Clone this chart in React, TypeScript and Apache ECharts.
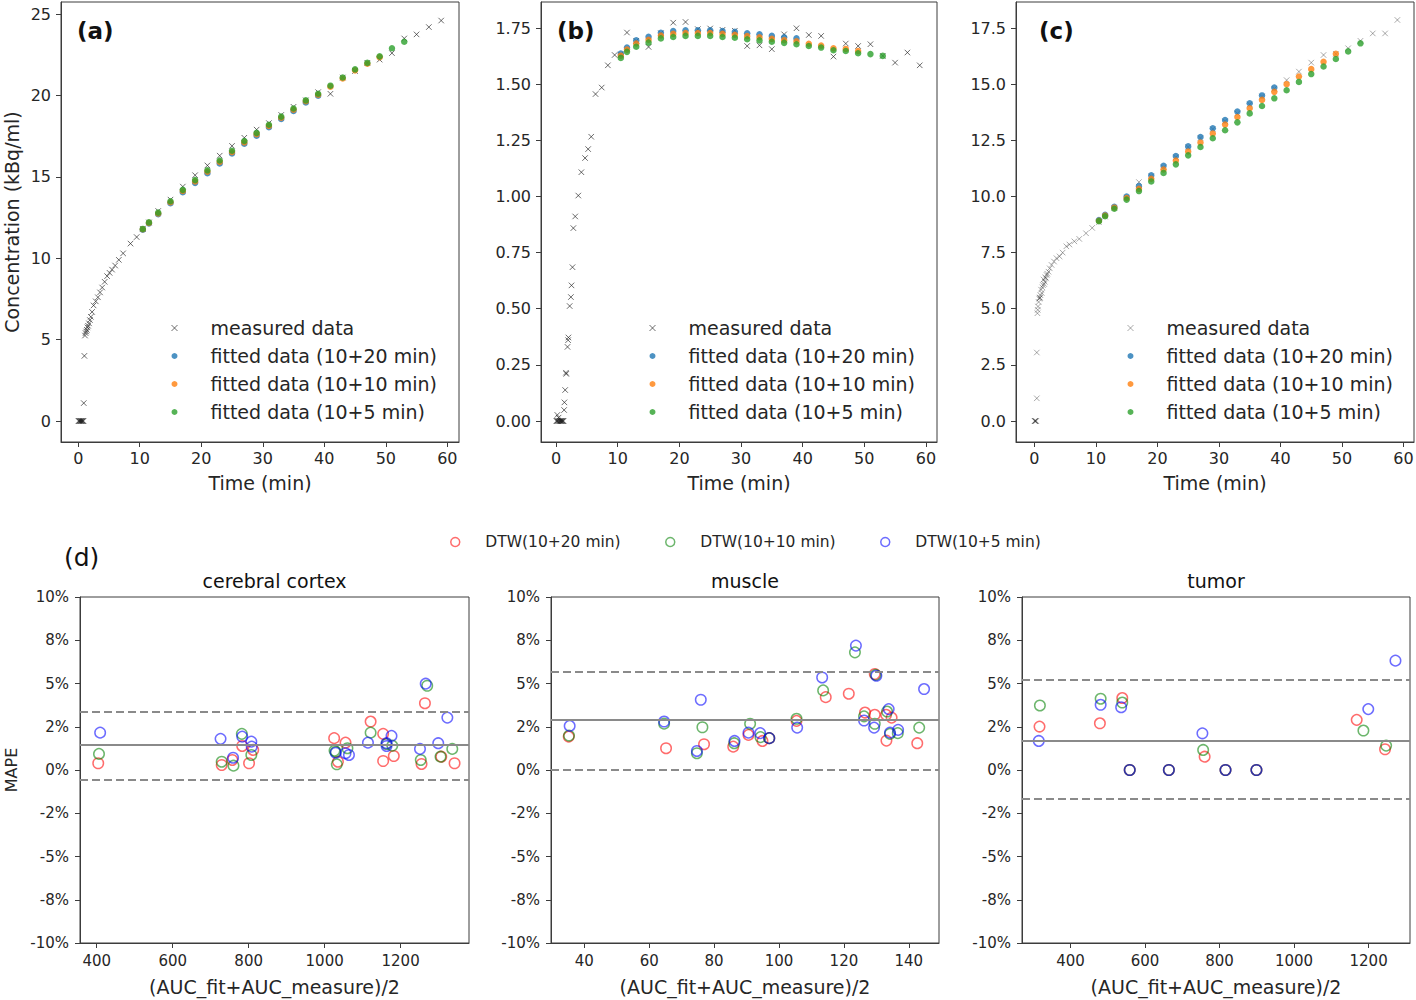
import React, { useEffect, useRef } from "react";
import * as echarts from "echarts";

const FONT = "DejaVu Sans";
const TEXT = "#262626";
const AXIS = "#3c3c3c";

// ---------- top panels (a)(b)(c) ----------
const timeTicks = [0, 10, 20, 30, 40, 50, 60];
const aYTicks = [0, 5, 10, 15, 20, 25];
const bYTicks = [0, 0.25, 0.5, 0.75, 1.0, 1.25, 1.5, 1.75];
const cYTicks = [0, 2.5, 5, 7.5, 10, 12.5, 15, 17.5];

const fitTimes = [10.5, 11.5, 13, 15, 17, 19, 21, 23, 25, 27, 29, 31, 33, 35, 37, 39, 41, 43, 45, 47, 49, 51, 53];
const tailTimes = [10.5, 11.5, 13, 15, 17, 19, 21, 23, 25, 27, 29, 31, 33, 35, 37, 39, 41, 43, 45, 47, 49, 51, 53, 55, 57, 59];

const aEarlyT = [0.05, 0.15, 0.25, 0.35, 0.45, 0.55, 0.65, 0.75, 0.85, 0.9, 1.0, 1.1, 1.2, 1.3, 1.4, 1.5, 1.6, 1.75, 1.9, 2.05, 2.25, 2.5, 2.85, 3.2, 3.55, 3.9, 4.3, 4.7, 5.1, 5.5, 6.0, 6.6, 7.3, 8.5, 9.5];
const aEarlyV = [0, 0, 0, 0, 0, 0, 0, 0, 0, 1.1, 4.0, 5.25, 5.4, 5.5, 5.6, 5.75, 5.85, 6.0, 6.2, 6.4, 6.7, 7.1, 7.35, 7.6, 7.9, 8.2, 8.55, 8.9, 9.1, 9.3, 9.55, 9.9, 10.3, 10.9, 11.3];
const aTailV = [11.8, 12.2, 12.9, 13.6, 14.4, 15.1, 15.7, 16.3, 16.9, 17.4, 17.9, 18.3, 18.8, 19.3, 19.7, 20.2, 20.1, 21.1, 21.5, 22.0, 22.2, 22.6, 23.5, 23.75, 24.2, 24.6];
const aFit20 = [11.75, 12.13, 12.7, 13.38, 14.05, 14.63, 15.22, 15.82, 16.43, 17.03, 17.53, 18.05, 18.55, 19.05, 19.57, 19.98];
const aFit10 = [11.78, 12.17, 12.75, 13.44, 14.13, 14.72, 15.32, 15.92, 16.52, 17.12, 17.62, 18.13, 18.63, 19.13, 19.64, 20.04, 20.54, 21.04, 21.54, 21.95, 22.35];
const aFit5 = [11.8, 12.2, 12.8, 13.5, 14.2, 14.8, 15.4, 16.0, 16.6, 17.2, 17.7, 18.2, 18.7, 19.2, 19.7, 20.1, 20.6, 21.1, 21.6, 22.0, 22.4, 22.9, 23.3];

const bEarlyT = [0.05, 0.15, 0.2, 0.3, 0.4, 0.5, 0.6, 0.7, 0.8, 0.9, 1.0, 1.1, 1.2, 1.3, 1.35, 1.47, 1.6, 1.65, 1.85, 1.95, 2.0, 2.2, 2.4, 2.5, 2.66, 2.8, 3.1, 3.6, 4.1, 4.7, 5.2, 5.7, 6.4, 7.4, 8.4, 9.5];
const bEarlyV = [0, 0, 0.027, 0, 0.015, 0, 0, 0, 0, 0, 0, 0, 0, 0.049, 0.083, 0.138, 0.215, 0.21, 0.33, 0.36, 0.372, 0.512, 0.552, 0.604, 0.685, 0.859, 0.911, 1.004, 1.108, 1.171, 1.211, 1.266, 1.456, 1.485, 1.584, 1.63];
const bTailV = [1.633, 1.73, 1.693, 1.666, 1.727, 1.774, 1.777, 1.745, 1.748, 1.742, 1.738, 1.67, 1.673, 1.656, 1.722, 1.749, 1.719, 1.715, 1.623, 1.681, 1.67, 1.678, 1.626, 1.596, 1.641, 1.584];
const bFit20 = [1.636, 1.663, 1.695, 1.711, 1.729, 1.737, 1.74, 1.74, 1.74, 1.737, 1.733, 1.727, 1.722, 1.715, 1.709, 1.704];
const bFit10 = [1.627, 1.654, 1.681, 1.698, 1.717, 1.724, 1.728, 1.728, 1.728, 1.724, 1.72, 1.714, 1.709, 1.702, 1.696, 1.691, 1.68, 1.672, 1.66, 1.657, 1.648];
const bFit5 = [1.617, 1.644, 1.667, 1.685, 1.704, 1.71, 1.715, 1.715, 1.715, 1.71, 1.707, 1.7, 1.695, 1.689, 1.684, 1.678, 1.67, 1.663, 1.651, 1.648, 1.638, 1.634, 1.626];

const cEarlyT = [0.05, 0.1, 0.15, 0.2, 0.3, 0.4, 0.4, 0.5, 0.55, 0.6, 0.7, 0.8, 0.9, 0.9, 1.0, 1.1, 1.2, 1.3, 1.4, 1.5, 1.6, 1.7, 1.8, 1.9, 2.0, 2.1, 2.3, 2.5, 2.8, 3.2, 3.6, 4.1, 4.6, 5.2, 5.7, 6.5, 7.3, 8.4, 9.4];
const cEarlyV = [0, 0, 0, 0, 0, 1.01, 3.05, 4.8, 4.95, 5.1, 5.3, 5.45, 5.48, 5.5, 5.6, 5.85, 5.7, 5.95, 6.05, 6.3, 6.1, 6.2, 6.4, 6.35, 6.5, 6.56, 6.65, 6.8, 6.95, 7.1, 7.25, 7.33, 7.5, 7.78, 7.86, 8.0, 8.11, 8.36, 8.6];
const cTailV = [8.85, 9.1, 9.5, 9.95, 10.64, 10.9, 11.3, 11.75, 12.2, 12.6, 13.0, 13.35, 13.7, 14.1, 14.45, 14.8, 15.18, 15.56, 15.96, 16.3, 16.35, 16.6, 16.93, 17.26, 17.26, 17.86];
const cFit20 = [8.95, 9.18, 9.54, 10.0, 10.46, 10.94, 11.37, 11.8, 12.23, 12.65, 13.04, 13.4, 13.78, 14.15, 14.5, 14.85];
const cFit10 = [8.92, 9.15, 9.5, 9.93, 10.34, 10.79, 11.2, 11.6, 12.0, 12.4, 12.8, 13.2, 13.54, 13.93, 14.3, 14.66, 15.0, 15.34, 15.67, 16.0, 16.35];
const cFit5 = [8.9, 9.12, 9.45, 9.86, 10.24, 10.67, 11.05, 11.43, 11.83, 12.2, 12.59, 12.95, 13.3, 13.7, 14.03, 14.37, 14.73, 15.1, 15.45, 15.79, 16.12, 16.46, 16.82];

// ---------- bottom panels (d) ----------
const pctTicks = [-10, -7.5, -5, -2.5, 0, 2.5, 5, 7.5, 10];
const pctLabels = ["-10%", "-8%", "-5%", "-2%", "0%", "2%", "5%", "8%", "10%"];
const cortexXTicks = [400, 600, 800, 1000, 1200];
const muscleXTicks = [40, 60, 80, 100, 120, 140];
const tumorXTicks = [400, 600, 800, 1000, 1200];

const cortexRedX = [404, 729, 757, 783, 801, 812, 1025, 1035, 1055, 1121, 1154, 1154, 1182, 1264, 1255, 1307, 1342];
const cortexRedY = [0.39, 0.29, 0.58, 1.39, 0.39, 1.16, 1.84, 0.48, 1.58, 2.8, 2.09, 0.52, 0.81, 3.86, 0.35, 0.77, 0.39];
const cortexGreenX = [406, 729, 760, 782, 807, 1026, 1029, 1032, 1060, 1121, 1163, 1178, 1270, 1253, 1305, 1336];
const cortexGreenY = [0.93, 0.48, 0.25, 2.09, 0.87, 1.12, 1.05, 0.33, 1.26, 2.16, 1.5, 1.41, 4.87, 0.58, 0.77, 1.22];
const cortexBlueX = [409, 726, 759, 783, 807, 808, 1029, 1055, 1064, 1114, 1163, 1163, 1176, 1266, 1251, 1299, 1323];
const cortexBlueY = [2.16, 1.8, 0.71, 1.93, 1.64, 1.35, 1.0, 0.97, 0.87, 1.58, 1.55, 1.39, 1.97, 4.99, 1.22, 1.55, 3.03];
const cortexLimits = [1.45, 3.37, -0.58];

const muscleRedX = [35.2, 65.2, 76.9, 85.9, 90.6, 94.9, 97.0, 105.4, 114.4, 121.5, 126.5, 129.5, 129.5, 133.1, 133.0, 134.7, 142.6];
const muscleRedY = [1.93, 1.26, 1.49, 1.35, 2.03, 1.68, 1.84, 2.84, 4.21, 4.41, 3.32, 5.55, 3.19, 1.7, 3.19, 3.03, 1.55];
const muscleGreenX = [35.3, 64.6, 74.7, 76.4, 86.2, 91.1, 94.3, 97.0, 105.4, 113.6, 123.4, 126.2, 129.8, 129.5, 133.3, 134.2, 136.6, 143.2];
const muscleGreenY = [1.99, 2.68, 0.97, 2.47, 1.55, 2.67, 1.9, 1.84, 2.96, 4.6, 6.8, 3.1, 5.5, 2.67, 3.38, 2.09, 2.13, 2.45];
const muscleBlueX = [35.5, 64.6, 74.7, 75.9, 86.3, 90.6, 94.2, 97.0, 105.6, 113.3, 123.7, 126.2, 130.0, 129.3, 133.8, 134.2, 136.7, 144.7];
const muscleBlueY = [2.55, 2.8, 1.1, 4.06, 1.68, 2.16, 2.13, 1.84, 2.45, 5.35, 7.19, 2.86, 5.45, 2.45, 3.52, 2.16, 2.32, 4.68];
const muscleLimits = [2.9, 5.68, 0.03];

const tumorRedX = [317, 479, 539, 559, 664, 760, 816, 899, 1168, 1244];
const tumorRedY = [2.51, 2.7, 4.16, 0, 0, 0.77, 0, 0, 2.9, 1.2];
const tumorGreenX = [318, 481, 539, 559, 664, 756, 816, 899, 1186, 1247];
const tumorGreenY = [3.73, 4.12, 3.9, 0, 0, 1.16, 0, 0, 2.28, 1.41];
const tumorBlueX = [315, 481, 536, 559, 664, 754, 816, 899, 1199, 1272];
const tumorBlueY = [1.68, 3.77, 3.63, 0, 0, 2.12, 0, 0, 3.52, 6.32];
const tumorLimits = [1.71, 5.22, -1.68];

// ---------- names & styles ----------
const NAME_MEAS = "measured data";
const NAME_F20 = "fitted data (10+20 min)";
const NAME_F10 = "fitted data (10+10 min)";
const NAME_F5 = "fitted data (10+5 min)";
const NAME_D20 = "DTW(10+20 min)";
const NAME_D10 = "DTW(10+10 min)";
const NAME_D5 = "DTW(10+5 min)";

const CROSS = "path://M0,0L10,10M10,0L0,10";
const BLUE = "#1f77b4";
const ORANGE = "#ff7f0e";
const GREEN = "#2ca02c";
const MEAS_DARK = "rgba(25,25,25,0.8)";
const MEAS_GREY = "rgba(40,40,40,0.5)";
const RED_O = "rgba(255,0,0,0.72)";
const GREEN_O = "rgba(0,128,0,0.72)";
const BLUE_O = "rgba(0,0,255,0.72)";
const REF = "#8a8a8a";

const zip = (xs: number[], ys: number[]) => ys.map((y, i) => [xs[i], y]);

function topSeries(idx: number, earlyT: number[], earlyV: number[], tailV: number[], f20: number[], f10: number[], f5: number[], measColor: string) {
  const base = { type: "scatter", xAxisIndex: idx, yAxisIndex: idx, silent: true, emphasis: { disabled: true } };
  return [
    { ...base, name: NAME_MEAS, symbol: CROSS, symbolSize: 5.5, itemStyle: { color: measColor, borderColor: measColor, borderWidth: 1 }, data: [...zip(earlyT, earlyV), ...zip(tailTimes, tailV)] },
    { ...base, name: NAME_F20, symbol: "circle", symbolSize: 6.5, itemStyle: { color: BLUE, borderWidth: 0 }, data: zip(fitTimes, f20) },
    { ...base, name: NAME_F10, symbol: "circle", symbolSize: 6.5, itemStyle: { color: ORANGE, borderWidth: 0 }, data: zip(fitTimes, f10) },
    { ...base, name: NAME_F5, symbol: "circle", symbolSize: 6.5, itemStyle: { color: GREEN, borderWidth: 0 }, data: zip(fitTimes, f5) },
  ];
}

function bottomSeries(idx: number, rx: number[], ry: number[], gx: number[], gy: number[], bx: number[], by: number[], limits: number[]) {
  const base = { type: "scatter", xAxisIndex: idx, yAxisIndex: idx, silent: true, emphasis: { disabled: true }, symbol: "circle", symbolSize: 10.5 };
  const dash = { type: [8, 4], color: REF, width: 2 };
  return [
    {
      ...base, name: NAME_D20, itemStyle: { color: "rgba(0,0,0,0)", borderColor: RED_O, borderWidth: 1.5 }, data: zip(rx, ry),
      markLine: {
        silent: true, symbol: ["none", "none"], label: { show: false }, animation: false,
        data: [
          { yAxis: limits[0], lineStyle: { type: "solid", color: REF, width: 2 } },
          { yAxis: limits[1], lineStyle: dash },
          { yAxis: limits[2], lineStyle: dash },
        ],
      },
    },
    { ...base, name: NAME_D10, itemStyle: { color: "rgba(0,0,0,0)", borderColor: GREEN_O, borderWidth: 1.5 }, data: zip(gx, gy) },
    { ...base, name: NAME_D5, itemStyle: { color: "rgba(0,0,0,0)", borderColor: BLUE_O, borderWidth: 1.5 }, data: zip(bx, by) },
  ];
}

const grid = (left: number, top: number, width: number, height: number) => ({
  left, top, width, height, show: true, borderColor: AXIS, borderWidth: 1, backgroundColor: "rgba(0,0,0,0)", containLabel: false, outerBoundsMode: "none",
});

function valueAxis(gi: number, min: number, max: number, ticks: number[], fmt: (v: number) => string, fontSize: number, margin: number, name?: string, nameGap?: number, nameSize?: number) {
  return {
    type: "value", gridIndex: gi, min, max, scale: false,
    axisLine: { show: true, onZero: false, lineStyle: { color: AXIS, width: 1 } },
    axisTick: { show: true, inside: false, length: 5, customValues: ticks, lineStyle: { color: AXIS, width: 1 } },
    axisLabel: { show: true, customValues: ticks, formatter: fmt, fontSize, margin, color: TEXT, fontFamily: FONT, hideOverlap: false },
    splitLine: { show: false },
    name: name || "", nameLocation: "middle", nameGap: nameGap || 0,
    nameTextStyle: { fontSize: nameSize || 16, color: TEXT, fontFamily: FONT },
  };
}

const pctFmt = (v: number) => {
  const i = pctTicks.indexOf(v);
  return i >= 0 ? pctLabels[i] : "";
};

function topLegend(left: number, measColor: string) {
  return {
    orient: "vertical", left, top: 318, padding: 0, itemGap: 8, itemWidth: 62, itemHeight: 6, selectedMode: false,
    textStyle: { fontSize: 19, color: TEXT, fontFamily: FONT, lineHeight: 20 },
    data: [
      { name: NAME_MEAS, icon: CROSS, itemStyle: { color: measColor, borderColor: measColor, borderWidth: 1 } },
      { name: NAME_F20, icon: "circle", itemStyle: { color: BLUE, borderWidth: 0 } },
      { name: NAME_F10, icon: "circle", itemStyle: { color: ORANGE, borderWidth: 0 } },
      { name: NAME_F5, icon: "circle", itemStyle: { color: GREEN, borderWidth: 0 } },
    ],
  };
}

function dtwLegend(left: number, name: string, color: string) {
  return {
    orient: "horizontal", left, top: 534, padding: 0, itemWidth: 50, itemHeight: 9, selectedMode: false,
    textStyle: { fontSize: 15.5, color: TEXT, fontFamily: FONT, lineHeight: 16 },
    data: [{ name, icon: "circle", itemStyle: { color: "rgba(0,0,0,0)", borderColor: color, borderWidth: 1.5 } }],
  };
}

const label = (text: string, x: number, y: number, size: number, weight: string, align: string) => ({
  type: "text", x, y, silent: true,
  style: { text, x: 0, y: 0, fontSize: size, fontWeight: weight, fontFamily: FONT, fill: "#111", align, verticalAlign: "middle", textAlign: align, textVerticalAlign: "middle" },
});

function buildOption() {
  const intFmt = (v: number) => String(v);
  return {
    animation: false,
    backgroundColor: "#ffffff",
    textStyle: { fontFamily: FONT },
    grid: [
      grid(61, 2, 398, 440),
      grid(541, 2, 396, 440),
      grid(1016, 2, 398, 440),
      grid(80, 597, 389, 346),
      grid(551, 597, 388, 346),
      grid(1022, 597, 388, 346),
    ],
    xAxis: [
      valueAxis(0, -2.8, 61.9, timeTicks, intFmt, 16, 8, "Time (min)", 31, 19),
      valueAxis(1, -2.45, 61.8, timeTicks, intFmt, 16, 8, "Time (min)", 31, 19),
      valueAxis(2, -2.98, 61.7, timeTicks, intFmt, 16, 8, "Time (min)", 31, 19),
      valueAxis(3, 356, 1380, cortexXTicks, intFmt, 15, 10, "(AUC_fit+AUC_measure)/2", 34, 19),
      valueAxis(4, 29.75, 149.3, muscleXTicks, intFmt, 15, 10, "(AUC_fit+AUC_measure)/2", 34, 19),
      valueAxis(5, 270, 1311, tumorXTicks, intFmt, 15, 10, "(AUC_fit+AUC_measure)/2", 34, 19),
    ],
    yAxis: [
      valueAxis(0, -1.29, 25.74, aYTicks, intFmt, 16, 10, "Concentration (kBq/ml)", 40, 19),
      valueAxis(1, -0.0935, 1.866, bYTicks, (v: number) => v.toFixed(2), 16, 10),
      valueAxis(2, -0.935, 18.66, cYTicks, (v: number) => v.toFixed(1), 16, 10),
      valueAxis(3, -10, 10, pctTicks, pctFmt, 15, 11, "MAPE", 61, 16),
      valueAxis(4, -10, 10, pctTicks, pctFmt, 15, 11),
      valueAxis(5, -10, 10, pctTicks, pctFmt, 15, 11),
    ],
    legend: [
      topLegend(171, MEAS_DARK),
      topLegend(649, MEAS_DARK),
      topLegend(1127, MEAS_GREY),
      dtwLegend(450, NAME_D20, RED_O),
      dtwLegend(665, NAME_D10, GREEN_O),
      dtwLegend(880, NAME_D5, BLUE_O),
    ],
    graphic: [
      label("(a)", 77, 31, 23, "bold", "left"),
      label("(b)", 557, 31, 23, "bold", "left"),
      label("(c)", 1039, 31, 23, "bold", "left"),
      label("(d)", 64, 557, 25, "normal", "left"),
      label("cerebral cortex", 274.5, 581, 19, "normal", "center"),
      label("muscle", 745, 581, 19, "normal", "center"),
      label("tumor", 1216, 581, 19, "normal", "center"),
    ],
    series: [
      ...topSeries(0, aEarlyT, aEarlyV, aTailV, aFit20, aFit10, aFit5, MEAS_DARK),
      ...topSeries(1, bEarlyT, bEarlyV, bTailV, bFit20, bFit10, bFit5, MEAS_DARK),
      ...topSeries(2, cEarlyT, cEarlyV, cTailV, cFit20, cFit10, cFit5, MEAS_GREY),
      ...bottomSeries(3, cortexRedX, cortexRedY, cortexGreenX, cortexGreenY, cortexBlueX, cortexBlueY, cortexLimits),
      ...bottomSeries(4, muscleRedX, muscleRedY, muscleGreenX, muscleGreenY, muscleBlueX, muscleBlueY, muscleLimits),
      ...bottomSeries(5, tumorRedX, tumorRedY, tumorGreenX, tumorGreenY, tumorBlueX, tumorBlueY, tumorLimits),
    ],
  };
}

export default function App() {
  const ref = useRef<HTMLDivElement>(null);
  useEffect(() => {
    if (!ref.current) return;
    const chart = echarts.init(ref.current, undefined, { renderer: "svg" });
    chart.setOption(buildOption() as any);
    return () => chart.dispose();
  }, []);
  return <div ref={ref} style={{ position: "fixed", left: 0, top: 0, width: 1416, height: 1000, background: "#fff" }} />;
}
